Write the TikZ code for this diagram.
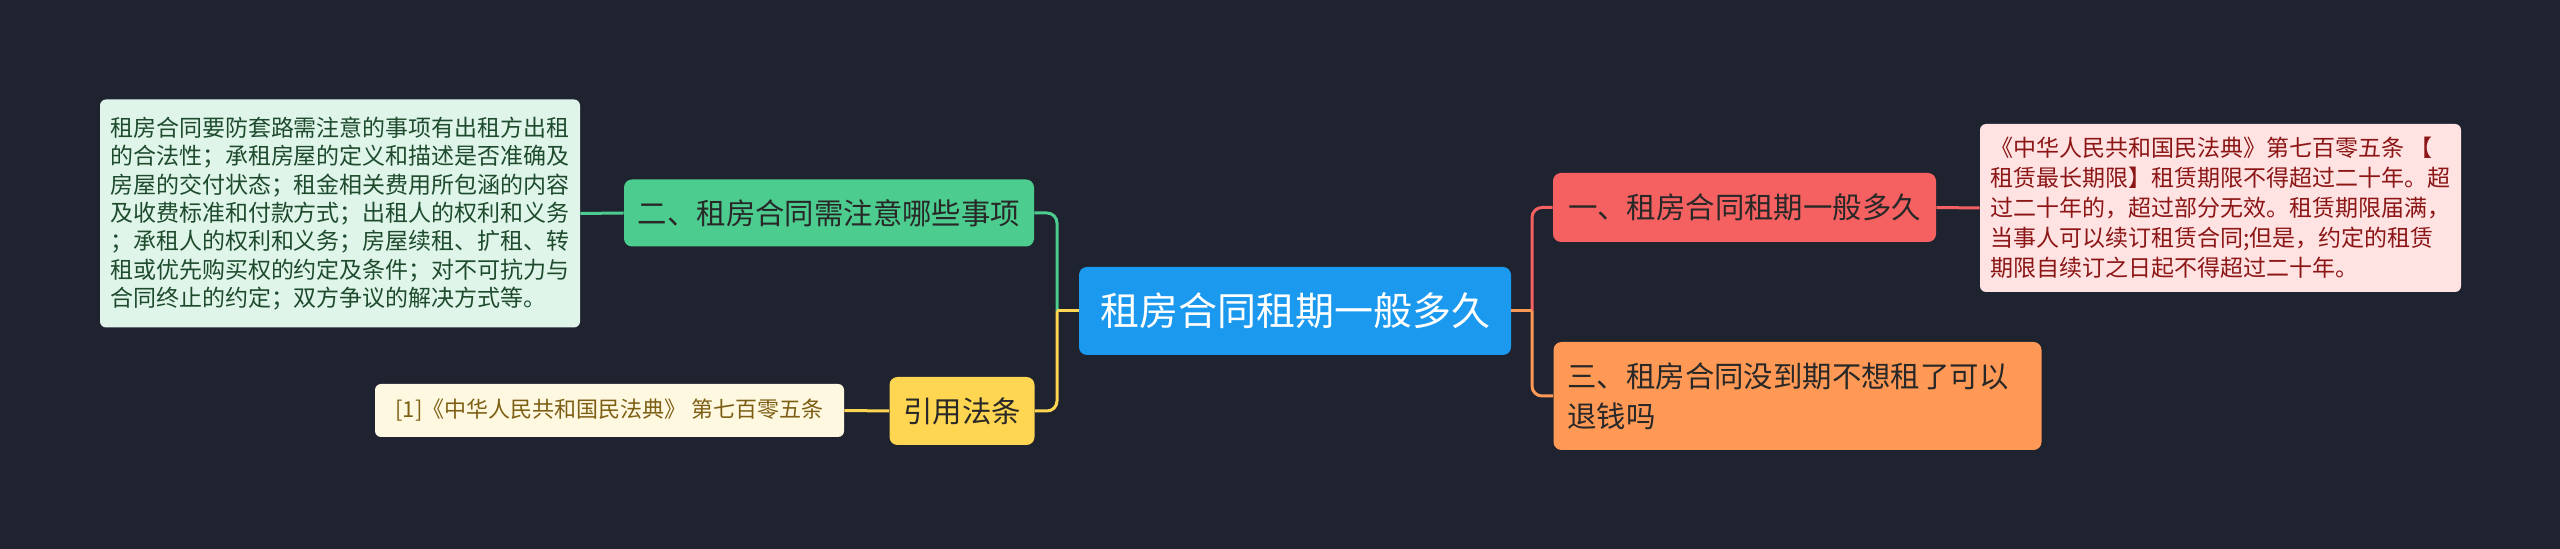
\documentclass[tikz,border=0pt]{standalone}
\usepackage{fontspec}
\setmainfont{Noto Sans CJK SC}
\usepackage{tikz}
\usetikzlibrary{positioning,calc}
\definecolor{BgColor}{RGB}{31,35,48}
\definecolor{RootBlue}{RGB}{26,153,238}
\definecolor{TopicGreen}{RGB}{76,204,142}
\definecolor{TopicYellow}{RGB}{255,214,82}
\definecolor{TopicRed}{RGB}{245,96,96}
\definecolor{TopicOrange}{RGB}{255,153,85}
\definecolor{TopicText}{RGB}{40,40,40}
\definecolor{LeafGreen}{RGB}{224,245,234}
\definecolor{LeafGreenText}{RGB}{30,75,45}
\definecolor{LeafPink}{RGB}{255,226,226}
\definecolor{LeafPinkText}{RGB}{140,22,22}
\definecolor{LeafCream}{RGB}{255,248,225}
\definecolor{LeafCreamText}{RGB}{125,95,20}

\begin{document}
\begin{tikzpicture}[x=0.5pt, y=-0.5pt,
    topic/.style={rounded corners=4pt, inner sep=0pt, align=center, text=TopicText,
      font=\fontsize{14.7}{18}\selectfont},
    leaf/.style={rounded corners=3pt, inner sep=0pt, align=left},
    link/.style={line width=1.5pt, rounded corners=5pt}]
  \fill[BgColor] (0,0) rectangle (2560,549);
  \useasboundingbox (0,0) rectangle (2560,549);

  % center
  \node[topic, fill=RootBlue, text=white, minimum width=216pt, minimum height=44pt,
    font=\fontsize{19.5}{24}\selectfont] (root) at (1295,311) {租房合同租期一般多久};

  % left side
  \node[topic, fill=TopicGreen, minimum width=205pt, minimum height=33.5pt] (attn) at (829,213) {二、租房合同需注意哪些事项};
  \node[topic, fill=TopicYellow, minimum width=72.5pt, minimum height=34pt] (law) at (962,411) {引用法条};
  \node[leaf, fill=LeafGreen, text=LeafGreenText, minimum width=240pt, minimum height=114pt,
    font=\fontsize{11.5}{14.2}\selectfont] (attnleaf) at (340,213.5)
    {租房合同要防套路需注意的事项有出租方出租\\的合法性；承租房屋的定义和描述是否准确及\\房屋的交付状态；租金相关费用所包涵的内容\\及收费标准和付款方式；出租人的权利和义务\\；承租人的权利和义务；房屋续租、扩租、转\\租或优先购买权的约定及条件；对不可抗力与\\合同终止的约定；双方争议的解决方式等。};
  \node[leaf, fill=LeafCream, text=LeafCreamText, minimum width=234.5pt, minimum height=26.5pt,
    font=\fontsize{11}{13}\selectfont] (lawleaf) at (609.5,410.5) {[1]《中华人民共和国民法典》 第七百零五条};

  % right side
  \node[topic, fill=TopicRed, minimum width=191.5pt, minimum height=34.5pt] (term) at (1744.5,207.5) {一、租房合同租期一般多久};
  \node[topic, fill=TopicOrange, align=left, text width=230pt, inner xsep=7pt, minimum height=54pt,
    font=\fontsize{14.7}{20}\selectfont] (refund) at (1797.5,396) {三、租房合同没到期不想租了可以\\退钱吗};
  \node[leaf, fill=LeafPink, text=LeafPinkText, minimum width=240.5pt, minimum height=84pt,
    font=\fontsize{11.5}{15}\selectfont] (termleaf) at (2220.5,208)
    {《中华人民共和国民法典》第七百零五条 【\\租赁最长期限】租赁期限不得超过二十年。超\\过二十年的，超过部分无效。租赁期限届满，\\当事人可以续订租赁合同;但是，约定的租赁\\期限自续订之日起不得超过二十年。};

  % connectors
  \coordinate (forkL) at (1057,311);
  \coordinate (forkR) at (1532,311);
  \draw[link, TopicGreen] (forkL) |- (attn.east);
  \draw[link, TopicYellow] (forkL) |- (law.east);
  \draw[link, TopicYellow] (root.west) -- (forkL);
  \draw[link, TopicRed] (forkR) |- (term.west);
  \draw[link, TopicOrange] (forkR) |- (refund.west);
  \draw[link, TopicOrange] (root.east) -- (forkR);
  \draw[link, TopicGreen] (attn.west) -- (attnleaf.east);
  \draw[link, TopicYellow] (law.west) -- (lawleaf.east);
  \draw[link, TopicRed] (term.east) -- (termleaf.west);
\end{tikzpicture}
\end{document}
